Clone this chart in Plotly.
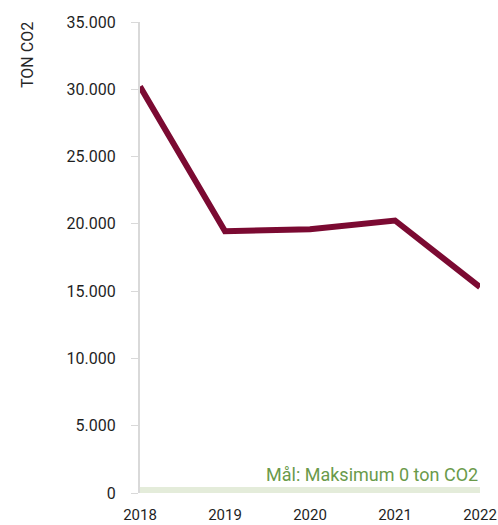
import plotly.graph_objects as go

years = ["2018", "2019", "2020", "2021", "2022"]
emissions = [30200, 19450, 19600, 20250, 15300]
y_ticks = [0, 5000, 10000, 15000, 20000, 25000, 30000, 35000]
y_tick_labels = ["0", "5.000", "10.000", "15.000", "20.000", "25.000", "30.000", "35.000"]
target_label = "Mål: Maksimum 0 ton CO2"
target_band_top = 450
y_title = "TON CO2"

x_idx = list(range(len(years)))

W, H = 498, 525
ML, MR, MT, MB = 140, 18, 22, 32

fig = go.Figure()
fig.add_shape(type="rect", xref="x", yref="y", x0=0, x1=len(years) - 1,
              y0=0, y1=target_band_top, fillcolor="#E4ECDA", line_width=0, layer="below")
fig.add_trace(go.Scatter(x=x_idx, y=emissions, mode="lines",
                         line=dict(color="#7B0A32", width=6), showlegend=False,
                         hoverinfo="skip"))
fig.add_annotation(x=len(years) - 1, y=target_band_top, xref="x", yref="y",
                   text=target_label, showarrow=False, xanchor="right", yanchor="bottom",
                   yshift=0, font=dict(color="#6A9A4A", size=18, family="Roboto"))
fig.add_annotation(xref="paper", yref="paper",
                   x=(28 - ML) / (W - ML - MR), y=(H - MB - 55) / (H - MT - MB),
                   xanchor="center", yanchor="middle",
                   text=y_title, showarrow=False, textangle=-90,
                   font=dict(color="#262626", size=16, family="Roboto"))
fig.update_layout(
    width=W, height=H,
    margin=dict(l=ML, r=MR, t=MT, b=MB, autoexpand=False),
    paper_bgcolor="white", plot_bgcolor="white",
    font=dict(family="Roboto", size=16, color="#1f1f1f"),
    xaxis=dict(tickmode="array", tickvals=x_idx, ticktext=years, range=[0, len(years) - 1],
               showgrid=False, zeroline=False, showline=False, ticks="", tickfont=dict(size=15),
               automargin=False, ticklabelstandoff=11),
    yaxis=dict(tickmode="array", tickvals=y_ticks, ticktext=y_tick_labels, range=[0, 35000],
               showgrid=False, zeroline=False, showline=True, linecolor="#D9D9D9", linewidth=2,
               ticks="outside", ticklen=7, tickcolor="#D9D9D9", tickwidth=1, ticklabelstandoff=12,
               tickfont=dict(size=16), automargin=False),
)
fig.write_html(
    "out.html",
    config={"displayModeBar": False},
    post_script="document.body.style.margin='0';document.documentElement.style.overflow='hidden';",
)
